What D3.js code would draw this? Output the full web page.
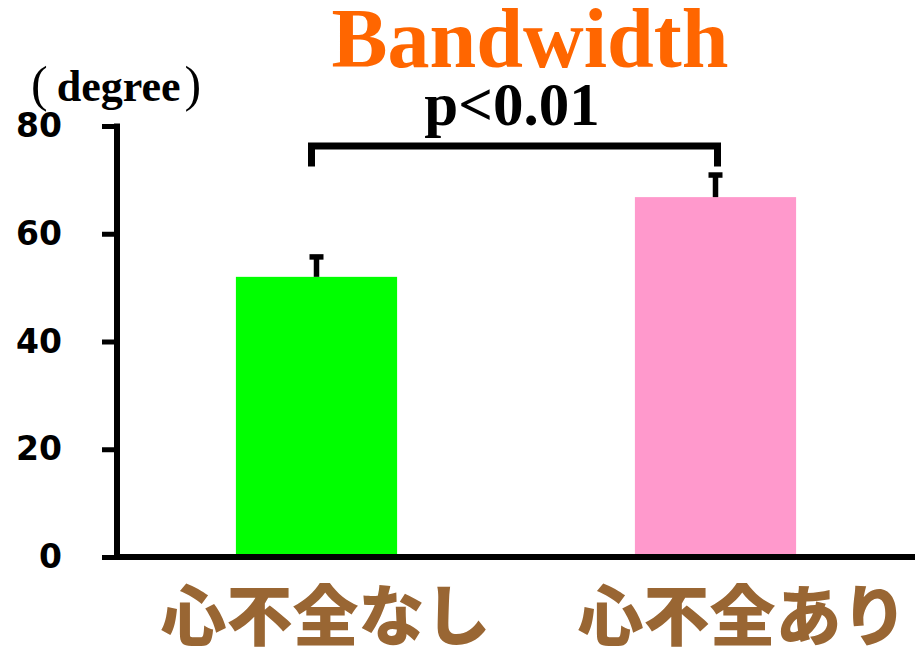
<!DOCTYPE html>
<html>
<head>
<meta charset="utf-8">
<script src="https://cdn.jsdelivr.net/npm/d3@7"></script>
<style>
  html, body { margin: 0; padding: 0; background: #fff; }
  svg { display: block; }
</style>
</head>
<body>
<svg id="chart" width="915" height="654"></svg>
<script>
// Bandwidth (degree) by heart-failure group
const categories = ["心不全なし", "心不全あり"];
const means = [52.0, 66.8];
const errors = [3.7, 4.1];
const barColors = ["#00ff00", "#ff99cc"];
const yTicks = [0, 20, 40, 60, 80];
const sigLabel = "p<0.01";
const bracketLevels = [76.3, 72.5]; // top of bracket, foot of bracket

const svg = d3.select("#chart");

const y = d3.scaleLinear().domain([0, 80]).range([557, 126]);
const x = d3.scaleBand().domain(categories).range([117, 915])
  .paddingInner(0.596).paddingOuter(0.298);

// Bars
svg.selectAll("rect.bar").data(categories).enter().append("rect")
  .attr("class", "bar")
  .attr("x", d => x(d))
  .attr("width", x.bandwidth())
  .attr("y", (d, i) => y(means[i]))
  .attr("height", (d, i) => y(0) - y(means[i]))
  .attr("fill", (d, i) => barColors[i]);

// Error bars (upper only)
const eb = svg.append("g");
categories.forEach((c, i) => {
  const cx = x(c) + x.bandwidth() / 2;
  eb.append("line").attr("x1", cx).attr("x2", cx)
    .attr("y1", y(means[i])).attr("y2", y(means[i] + errors[i]))
    .attr("stroke", "#000").attr("stroke-width", 5.5);
  eb.append("line").attr("x1", cx - 7).attr("x2", cx + 7)
    .attr("y1", y(means[i] + errors[i])).attr("y2", y(means[i] + errors[i]))
    .attr("stroke", "#000").attr("stroke-width", 5.5);
});

// Y axis
const yAxis = d3.axisLeft(y).tickValues(yTicks).tickSize(15).tickSizeOuter(0).tickPadding(40);
const gy = svg.append("g").attr("transform", "translate(117,0)").call(yAxis);
gy.select(".domain").attr("stroke", "#000").attr("stroke-width", 6)
  .attr("d", `M0,${y(80) - 2.5}V${y(0)}`);
gy.selectAll(".tick line").attr("stroke", "#000").attr("stroke-width", 5);
gy.selectAll(".tick text")
  .attr("fill", "#000")
  .style("font-family", "'DejaVu Sans', sans-serif")
  .style("font-weight", "bold")
  .style("font-size", "33px");

// X axis baseline
svg.append("line").attr("x1", 114).attr("x2", 915)
  .attr("y1", y(0)).attr("y2", y(0))
  .attr("stroke", "#000").attr("stroke-width", 6);

// Category labels
const labelShift = [9, 27];
svg.selectAll("text.cat").data(categories).enter().append("text")
  .attr("class", "cat")
  .attr("x", (d, i) => x(d) + x.bandwidth() / 2 + labelShift[i])
  .attr("y", 640)
  .attr("text-anchor", "middle")
  .attr("fill", "#996633")
  .style("font-family", "'Noto Sans CJK JP', sans-serif")
  .style("font-weight", "900")
  .style("font-size", "66px")
  .text(d => d);

// Significance bracket
const bx1 = x(categories[0]) + x.bandwidth() / 2 - 5;
const bx2 = x(categories[1]) + x.bandwidth() / 2 + 2;
svg.append("path")
  .attr("d", `M${bx1},${y(bracketLevels[1])}V${y(bracketLevels[0])}H${bx2}V${y(bracketLevels[1])}`)
  .attr("fill", "none").attr("stroke", "#000").attr("stroke-width", 7)
  .attr("stroke-linejoin", "miter");

svg.append("text")
  .attr("x", 512).attr("y", 125)
  .attr("text-anchor", "middle")
  .style("font-family", "'Liberation Serif', 'Times New Roman', serif")
  .style("font-weight", "bold")
  .style("font-size", "61px")
  .attr("fill", "#000")
  .text(sigLabel);

// Title
svg.append("text")
  .attr("x", 530).attr("y", 67)
  .attr("text-anchor", "middle")
  .style("font-family", "'Liberation Serif', 'Times New Roman', serif")
  .style("font-weight", "bold")
  .style("font-size", "84px")
  .attr("fill", "#ff6600")
  .text("Bandwidth");

// Unit label
const unit = svg.append("text")
  .attr("x", 31).attr("y", 101)
  .style("font-family", "'Liberation Serif', 'Times New Roman', serif")
  .style("font-weight", "bold")
  .style("font-size", "44px")
  .attr("fill", "#000");
unit.append("tspan").style("font-weight", "normal").style("font-size", "50px").text("(");
unit.append("tspan").attr("dx", 9).text("degree");
unit.append("tspan").attr("dx", 4).style("font-weight", "normal").style("font-size", "50px").text(")");
</script>
</body>
</html>
